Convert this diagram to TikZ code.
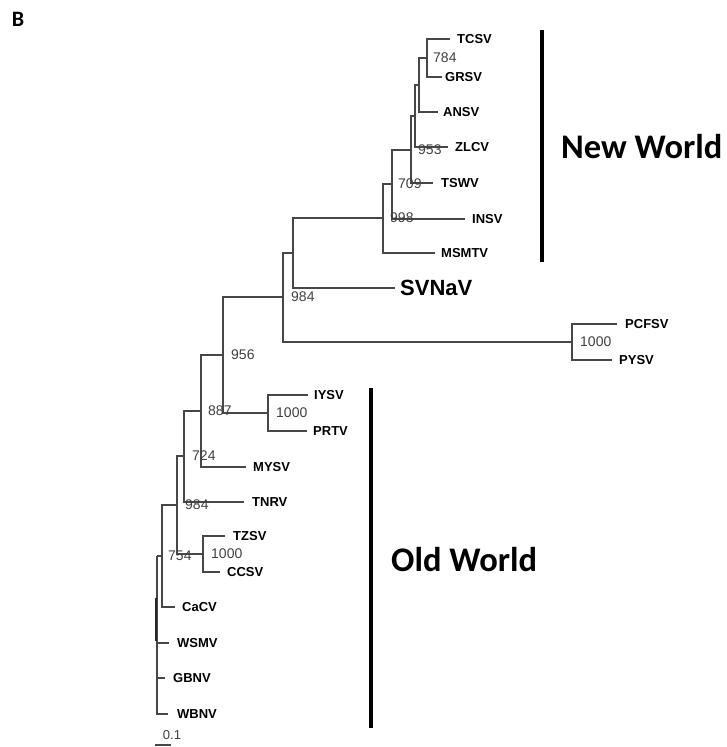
\documentclass[tikz,border=0pt]{standalone}
\usepackage{fontspec}
\setmainfont{Liberation Sans}
\newfontfamily\calfont{Carlito}
\begin{document}
\begin{tikzpicture}[x=1pt,y=-1pt,
  br/.style={draw=black!72,line width=1.2pt},
  leaf/.style={anchor=west,inner sep=0pt,font=\fontsize{13}{15}\selectfont\bfseries},
  bs/.style={anchor=west,inner sep=0pt,text=black!75,font=\fontsize{14}{16}\selectfont},
  grp/.style={anchor=west,inner sep=0pt,font=\calfont\fontsize{34.5}{38}\selectfont\bfseries},
  bar/.style={draw=black,line width=3.6pt}]
\useasboundingbox (0,0) rectangle (726,747);
% internal nodes (x, midpoint y)
\coordinate (n1) at (427,58);
\coordinate (n2) at (419,85);
\coordinate (n3) at (415,116);
\coordinate (n4) at (411,150);
\coordinate (n5) at (392,184);
\coordinate (n6) at (383,218);
\coordinate (n7) at (293,253);
\coordinate (n8) at (572,342);
\coordinate (n9) at (283,297);
\coordinate (n10) at (268,413);
\coordinate (n11) at (223,355);
\coordinate (n12) at (201,411);
\coordinate (n13) at (184,456);
\coordinate (n14) at (177,505);
\coordinate (n16) at (203,554);
\coordinate (n15) at (162,556);
\coordinate (r) at (157,556);
% leaf tips
\coordinate (tTCSV) at (450,39);
\coordinate (tGRSV) at (442,77);
\coordinate (tANSV) at (438,112);
\coordinate (tZLCV) at (448,147);
\coordinate (tTSWV) at (433,183);
\coordinate (tINSV) at (465,219);
\coordinate (tMSMTV) at (435,253);
\coordinate (tSVNaV) at (395,288);
\coordinate (tPCFSV) at (617,324);
\coordinate (tPYSV) at (612,360);
\coordinate (tIYSV) at (308,395);
\coordinate (tPRTV) at (307,431);
\coordinate (tMYSV) at (246,467);
\coordinate (tTNRV) at (244,502);
\coordinate (tTZSV) at (225,536);
\coordinate (tCCSV) at (220,572);
\coordinate (tCaCV) at (175,607);
\coordinate (tWSMV) at (169,643);
\coordinate (tGBNV) at (165,678);
\coordinate (tWBNV) at (168,714);
% branches
\draw[br] (n1) |- (tTCSV);
\draw[br] (n1) |- (tGRSV);
\draw[br] (n2) |- (n1);
\draw[br] (n2) |- (tANSV);
\draw[br] (n3) |- (n2);
\draw[br] (n3) |- (tZLCV);
\draw[br] (n4) |- (n3);
\draw[br] (n4) |- (tTSWV);
\draw[br] (n5) |- (n4);
\draw[br] (n5) |- (tINSV);
\draw[br] (n6) |- (n5);
\draw[br] (n6) |- (tMSMTV);
\draw[br] (n7) |- (n6);
\draw[br] (n7) |- (tSVNaV);
\draw[br] (n8) |- (tPCFSV);
\draw[br] (n8) |- (tPYSV);
\draw[br] (n9) |- (n7);
\draw[br] (n9) |- (n8);
\draw[br] (n10) |- (tIYSV);
\draw[br] (n10) |- (tPRTV);
\draw[br] (n11) |- (n9);
\draw[br] (n11) |- (n10);
\draw[br] (n12) |- (n11);
\draw[br] (n12) |- (tMYSV);
\draw[br] (n13) |- (n12);
\draw[br] (n13) |- (tTNRV);
\draw[br] (n16) |- (tTZSV);
\draw[br] (n16) |- (tCCSV);
\draw[br] (n14) |- (n13);
\draw[br] (n14) |- (n16);
\draw[br] (n15) |- (n14);
\draw[br] (n15) |- (tCaCV);
\draw[br] (r) |- (n15);
\draw[br] (r) |- (tWSMV);
\draw[br] (r) |- (tGBNV);
\draw[br] (r) |- (tWBNV);
\coordinate (rt1) at (156,598);
\coordinate (rt2) at (156,641);
\draw[draw=black!85,line width=2pt] (rt1) -- (rt2);
% leaf labels
\node[leaf] (lTCSV) at (457,39) {TCSV};
\node[leaf] (lGRSV) at (445,77) {GRSV};
\node[leaf] (lANSV) at (443,112) {ANSV};
\node[leaf] (lZLCV) at (455,147) {ZLCV};
\node[leaf] (lTSWV) at (441,183) {TSWV};
\node[leaf] (lINSV) at (472,219) {INSV};
\node[leaf] (lMSMTV) at (441,253) {MSMTV};
\node[leaf,font=\fontsize{22}{26}\selectfont\bfseries] (lSVNaV) at (400,288) {SVNaV};
\node[leaf] (lPCFSV) at (625,324) {PCFSV};
\node[leaf] (lPYSV) at (619,360) {PYSV};
\node[leaf] (lIYSV) at (314,395) {IYSV};
\node[leaf] (lPRTV) at (313,431) {PRTV};
\node[leaf] (lMYSV) at (253,467) {MYSV};
\node[leaf] (lTNRV) at (252,502) {TNRV};
\node[leaf] (lTZSV) at (233,536) {TZSV};
\node[leaf] (lCCSV) at (227,572) {CCSV};
\node[leaf] (lCaCV) at (182,607) {CaCV};
\node[leaf] (lWSMV) at (177,643) {WSMV};
\node[leaf] (lGBNV) at (173,678) {GBNV};
\node[leaf] (lWBNV) at (177,714) {WBNV};
% bootstrap values
\node[bs] (b1) at ([xshift=6pt]n1) {784};
\node[bs] (b4) at ([xshift=7pt]n4) {953};
\node[bs] (b5) at ([xshift=6pt]n5) {709};
\node[bs] (b6) at ([xshift=7pt]n6) {998};
\node[bs] (b9) at ([xshift=8pt]n9) {984};
\node[bs] (b8) at ([xshift=8pt]n8) {1000};
\node[bs] (b10) at ([xshift=8pt]n10) {1000};
\node[bs] (b11) at ([xshift=8pt]n11) {956};
\node[bs] (b12) at ([xshift=7pt]n12) {887};
\node[bs] (b13) at ([xshift=8pt]n13) {724};
\node[bs] (b14) at ([xshift=8pt]n14) {984};
\node[bs] (b16) at ([xshift=8pt]n16) {1000};
\node[bs] (b15) at ([xshift=6pt]n15) {754};
% group bars and labels
\coordinate (nw1) at (542,30);
\coordinate (nw2) at (542,262);
\draw[bar] (nw1) -- (nw2);
\node[grp] (lnw) at (561,147) {New World};
\coordinate (ow1) at (371,388);
\coordinate (ow2) at (371,728);
\draw[bar] (ow1) -- (ow2);
\node[grp] (low) at (391,560) {Old World};
% panel letter
\node[inner sep=0pt,font=\calfont\fontsize{22}{24}\selectfont\bfseries] (pB) at (18,19) {B};
% scale bar
\coordinate (sb1) at (155,745);
\coordinate (sb2) at (171,745);
\draw[br,line width=1.4pt] (sb1) -- (sb2);
\node[inner sep=0pt,text=black!75,font=\fontsize{13}{15}\selectfont] (sbl) at (172,735) {0.1};
\end{tikzpicture}
\end{document}
